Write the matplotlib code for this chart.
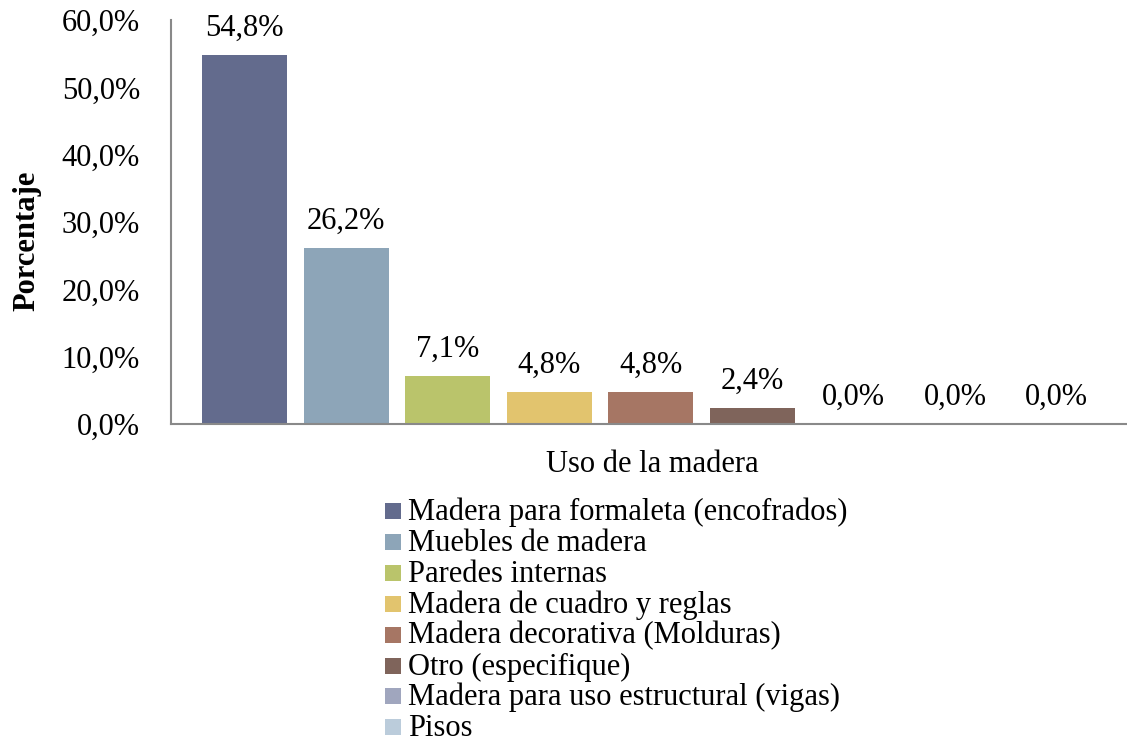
import matplotlib
matplotlib.use("Agg")
import matplotlib.pyplot as plt
from matplotlib.patches import Rectangle

categories = [
    "Madera para formaleta (encofrados)",
    "Muebles de madera",
    "Paredes internas",
    "Madera de cuadro y reglas",
    "Madera decorativa (Molduras)",
    "Otro (especifique)",
    "Madera para uso estructural (vigas)",
    "Pisos",
    "Otro",
]
values = [54.8, 26.2, 7.1, 4.8, 4.8, 2.4, 0.0, 0.0, 0.0]
colors = ["#636B8D", "#8DA5B8", "#BAC46B", "#E2C46E", "#A67664",
          "#7F645B", "#A0A6BE", "#BBCCDB", "#D4DBA9"]
yticks = [0, 10, 20, 30, 40, 50, 60]
xlabel = "Uso de la madera"
ylabel = "Porcentaje"
n_legend_visible = 8  # the reference image cuts off the last legend row

plt.rcParams['font.family'] = ['Liberation Serif', 'DejaVu Serif']
FS = 22

W, H = 1127, 746
PT = 100 / 72
fig = plt.figure(figsize=(W / 100, H / 100), dpi=100)
ax = fig.add_axes([171 / W, (H - 424) / H, (W - 171) / W, (424 - 20) / H])

x = list(range(len(values)))
ax.bar(x, values, width=85 / 101.5, color=colors)
ax.set_xlim(-(244.5 - 171) / 101.5, 8 + (1127 - 1056.5) / 101.5)
ax.set_ylim(0, 60)
ax.set_yticks(yticks)
ax.set_yticklabels([f"{v:.1f}%".replace(".", ",") for v in yticks], fontsize=FS)
ax.tick_params(axis='y', length=0, pad=31 / PT)
ax.set_xticks([])
for s in ["top", "right"]:
    ax.spines[s].set_visible(False)
for s in ["left", "bottom"]:
    ax.spines[s].set_color("#898989")
    ax.spines[s].set_linewidth(1.5)

for xi, v in zip(x, values):
    ax.annotate(f"{v:.1f}%".replace(".", ","), (xi, v), xytext=(0, 19 / PT),
                textcoords="offset points", ha="center", va="baseline", fontsize=FS)

fig.text(652 / W, 1 - 464 / H, xlabel, ha="center", va="center", fontsize=FS)
fig.text(27 / W, 1 - 241 / H, ylabel, ha="center", va="center", rotation=90,
         fontsize=FS, fontweight="bold")

# legend drawn manually with the reference's tight row pitch
for i, (name, c) in enumerate(zip(categories[:n_legend_visible], colors)):
    top = 503 + 30.9 * i
    fig.patches.append(Rectangle((385 / W, 1 - (top + 16) / H), 16 / W, 16 / H,
                                 transform=fig.transFigure, facecolor=c,
                                 edgecolor="none"))
    fig.text(408 / W, 1 - (top + 17) / H, name, ha="left", va="baseline", fontsize=FS)

fig.savefig("out.png", dpi=100)
